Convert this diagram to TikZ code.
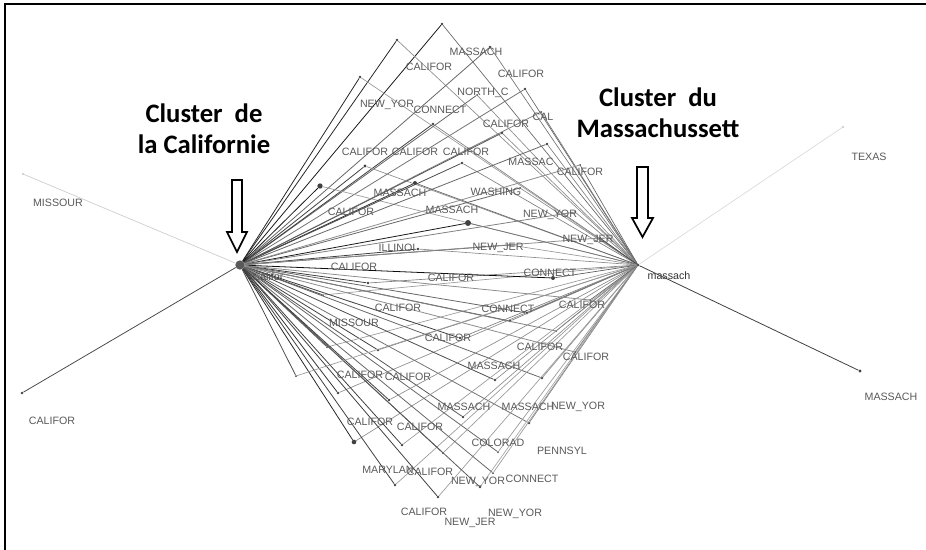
\documentclass[tikz,border=0pt]{standalone}
\usepackage{fontspec}
\setmainfont{Liberation Sans}
\newfontfamily\titlefont{Carlito}
\begin{document}
\begin{tikzpicture}[x=0.75pt,y=-0.75pt]
\tikzstyle{vtx}=[circle, fill=black!75, inner sep=0pt]
\tikzstyle{hub}=[circle, fill=black!65, inner sep=0pt, minimum size=7pt]
\tikzstyle{lbl}=[inner sep=0pt, text=black!65, font=\fontsize{8}{9}\selectfont]
\tikzstyle{ttl}=[align=center, font=\titlefont\bfseries\fontsize{20}{23}\selectfont]
\tikzstyle{downarr}=[draw=black, line width=1.3pt, fill=white, line join=miter]
\useasboundingbox (0,0) rectangle (926,550);
\draw[line width=1.5pt] (5,550) -- (5,4) -- (926,4);
% the two clusters
\node[hub](cal) at (240,265){};
\node[vtx, minimum size=2pt](mas) at (638,265){};
\node[lbl, text=black!80](calt) at (268,277){Califor};
\node[lbl, text=black!80](mast) at (669,276){massach};
% leaves linked to both clusters
\foreach \x/\y/\l/\r/\s [count=\n] in {442/24/90/60/2, 397/40/85/45/2, 360/77/85/40/2,
  490/47/60/55/2, 525/89/55/60/2, 477/95/60/45/1.5, 433/124/75/50/2, 541/112/50/55/1.5,
  365/166/75/45/2.5, 320/186/90/40/4, 415/183/80/60/3, 502/133/65/45/2, 462/163/70/50/2,
  547/144/60/50/2, 468/223/90/55/4.5, 520/188/60/45/1.5, 575/212/50/50/1.5, 418/249/75/45/2,
  510/245/65/40/1.5, 600/238/45/75/1.5, 368/283/75/50/2, 323/295/70/40/1.5, 553/278/95/65/3,
  378/350/75/50/2, 327/347/65/40/1.5, 338/393/80/45/2, 527/313/60/60/2, 510/321/65/50/2,
  460/338/75/50/2, 556/331/50/55/1.5, 495/380/70/45/2, 542/378/60/45/2, 463/417/65/45/2,
  529/423/55/50/2, 354/442/85/45/3.5, 402/445/75/40/2, 498/452/60/40/1.5, 443/453/65/40/1.5,
  395/485/75/40/2, 438/497/75/40/2, 480/487/65/35/2, 493/473/60/40/1.5, 389/400/75/45/2,
  590/300/45/60/1.5, 575/352/45/50/1.5, 580/165/45/60/1.5, 296/376/70/40/1.5}{
  \node[vtx, minimum size=\s pt](v\n) at (\x,\y){};
  \draw[black!\l, line width=0.6pt] (cal) -- (v\n);
  \draw[black!\r, line width=0.5pt] (mas) -- (v\n);
}
\foreach \x/\y/\t in {476/52/MASSACH, 429/67/CALIFOR, 521/74/CALIFOR, 387/105/NEW\_YOR,
  440/110/CONNECT, 483/93/NORTH\_C, 506/124/CALIFOR, 543/117/CAL, 365/152/CALIFOR,
  415/152/CALIFOR, 466/152/CALIFOR, 531/162/MASSAC, 580/172/CALIFOR, 400/193/MASSACH,
  496/192/WASHING, 351/212/CALIFOR, 452/210/MASSACH, 550/215/NEW\_YOR, 397/248/ILLINOI,
  498/248/NEW\_JER, 588/240/NEW\_JER, 354/267/CALIFOR, 451/278/CALIFOR, 550/273/CONNECT,
  398/308/CALIFOR, 508/309/CONNECT, 582/305/CALIFOR, 354/323/MISSOUR, 448/338/CALIFOR,
  540/347/CALIFOR, 586/357/CALIFOR, 494/366/MASSACH, 360/375/CALIFOR, 408/377/CALIFOR,
  464/407/MASSACH, 528/407/MASSACH, 578/407/NEW\_YOR, 370/422/CALIFOR, 420/427/CALIFOR,
  498/443/COLORAD, 562/451/PENNSYL, 388/470/MARYLAN, 430/472/CALIFOR, 478/482/NEW\_YOR,
  532/479/CONNECT, 424/512/CALIFOR, 470/523/NEW\_JER, 515/514/NEW\_YOR}{
  \node[lbl] at (\x,\y){\t};
}
% outliers
\node[vtx, minimum size=1pt](mi) at (23,174){};
\node[vtx, minimum size=2pt](ca) at (22,393){};
\node[vtx, minimum size=1pt](tx) at (843,127){};
\node[vtx, minimum size=2.5pt](ma) at (860,371){};
\draw[black!20, line width=0.5pt] (cal) -- (mi);
\draw[black!70, line width=0.6pt] (cal) -- (ca);
\draw[black!15, line width=0.5pt] (mas) -- (tx);
\draw[black!75, line width=0.6pt] (mas) -- (ma);
\node[lbl](mit) at (58,203){MISSOUR};
\node[lbl](cat) at (52,421){CALIFOR};
\node[lbl](txt) at (869,157){TEXAS};
\node[lbl](mat) at (891,397){MASSACH};
% titles and arrows
\node[ttl](tcal) at (204,129){Cluster~ de\\la Californie};
\node[ttl](tmas) at (658,113){Cluster~ du\\Massachussett};
\draw[downarr] (232,180) -- (242,180) -- (242,232) -- (247,232) -- (237,252)
  -- (227,232) -- (232,232) -- cycle;
\draw[downarr] (637,167) -- (648,167) -- (648,218) -- (653,218) -- (642.5,237)
  -- (632,218) -- (637,218) -- cycle;
\end{tikzpicture}
\end{document}
